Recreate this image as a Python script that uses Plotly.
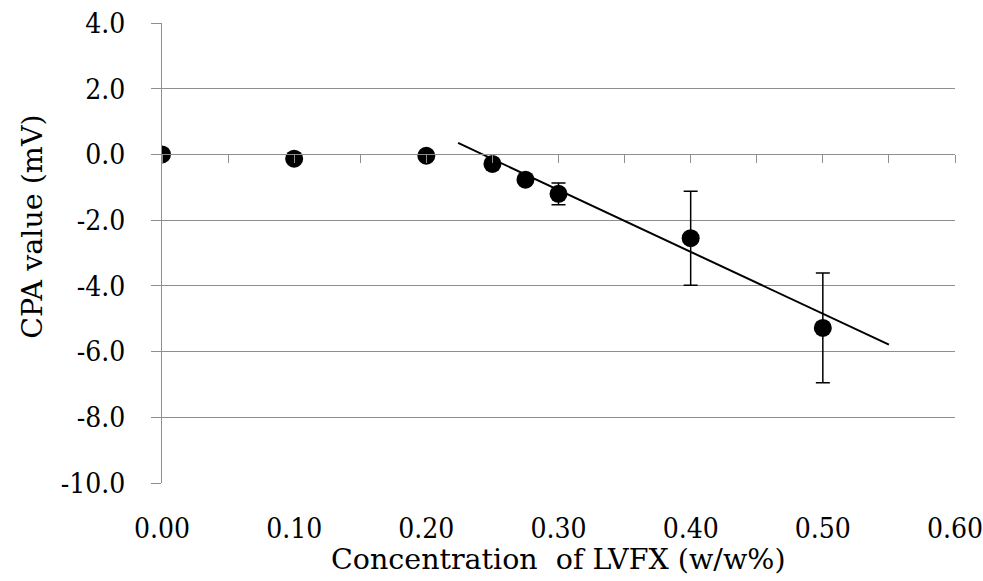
import plotly.graph_objects as go

# Data
conc = [0.00, 0.10, 0.20, 0.25, 0.275, 0.30, 0.40, 0.50]
cpa = [0.00, -0.13, -0.04, -0.29, -0.77, -1.20, -2.55, -5.28]
cpa_err = [0.0, 0.0, 0.0, 0.0, 0.0, 0.33, 1.43, 1.67]

# Trend line end points
trend_x = [0.224, 0.550]
trend_y = [0.35, -5.79]

x_tickvals = [0.0, 0.1, 0.2, 0.3, 0.4, 0.5, 0.6]
x_ticktext = ["0.00", "0.10", "0.20", "0.30", "0.40", "0.50", "0.60"]
y_tickvals = [4, 2, 0, -2, -4, -6, -8, -10]
y_ticktext = ["4.0", "2.0", "0.0", "-2.0", "-4.0", "-6.0", "-8.0", "-10.0"]

x_title = "Concentration\u00a0 of LVFX (w/w%)"
y_title = "CPA value (mV)"

TICK_FONT = dict(family="'DejaVu Serif Condensed', 'DejaVu Serif', serif", size=28, color="black")
TITLE_FONT = dict(family="DejaVu Serif", size=28.5, color="black")
GRID = "#8e8e8e"

fig = go.Figure()

fig.add_trace(go.Scatter(
    x=conc, y=cpa, mode="markers",
    marker=dict(color="black", size=18),
    error_y=dict(type="data", array=cpa_err, visible=True,
                 color="black", thickness=1.5, width=7),
    showlegend=False, hoverinfo="x+y",
))

fig.add_trace(go.Scatter(
    x=trend_x, y=trend_y, mode="lines",
    line=dict(color="black", width=2),
    showlegend=False, hoverinfo="skip",
))

# invisible trace so the crossing axis (at y=0) is drawn
fig.add_trace(go.Scatter(
    x=[None], y=[None], xaxis="x2", yaxis="y", mode="markers",
    showlegend=False, hoverinfo="skip",
))

fig.update_layout(
    width=983, height=581,
    margin=dict(l=162, r=28, t=23, b=98, autoexpand=False),
    paper_bgcolor="white", plot_bgcolor="white",
    font=TITLE_FONT,
    xaxis=dict(
        range=[0, 0.6], tickvals=x_tickvals, ticktext=x_ticktext,
        showgrid=False, zeroline=False, showline=False, ticks="",
        ticklabelstandoff=26, ticklabeloverflow="allow", automargin=False,
        tickfont=TICK_FONT,
    ),
    xaxis2=dict(
        range=[0, 0.6], overlaying="x", anchor="free", position=10 / 14,
        side="bottom", tick0=0, dtick=0.05, ticks="outside", ticklen=8,
        tickcolor=GRID, tickwidth=1, showline=True, linecolor=GRID, linewidth=1,
        showticklabels=False, showgrid=False, zeroline=False, automargin=False,
    ),
    yaxis=dict(
        range=[-10, 4], tickvals=y_tickvals, ticktext=y_ticktext,
        showgrid=True, gridcolor=GRID, gridwidth=1,
        zeroline=False, showline=True, linecolor=GRID, linewidth=1,
        ticks="outside", ticklen=10, tickcolor=GRID, tickwidth=1,
        ticklabelstandoff=20, automargin=False,
        tickfont=TICK_FONT,
    ),
    annotations=[
        dict(text=x_title, font=TITLE_FONT,
             xref="paper", yref="paper", x=0.5, y=-0.166,
             xanchor="center", yanchor="middle", showarrow=False),
        dict(text=y_title, font=TITLE_FONT, textangle=-90,
             xref="paper", yref="paper", x=-0.1627, y=0.557,
             xanchor="center", yanchor="middle", showarrow=False),
    ],
)

fig.write_html("out.html")
